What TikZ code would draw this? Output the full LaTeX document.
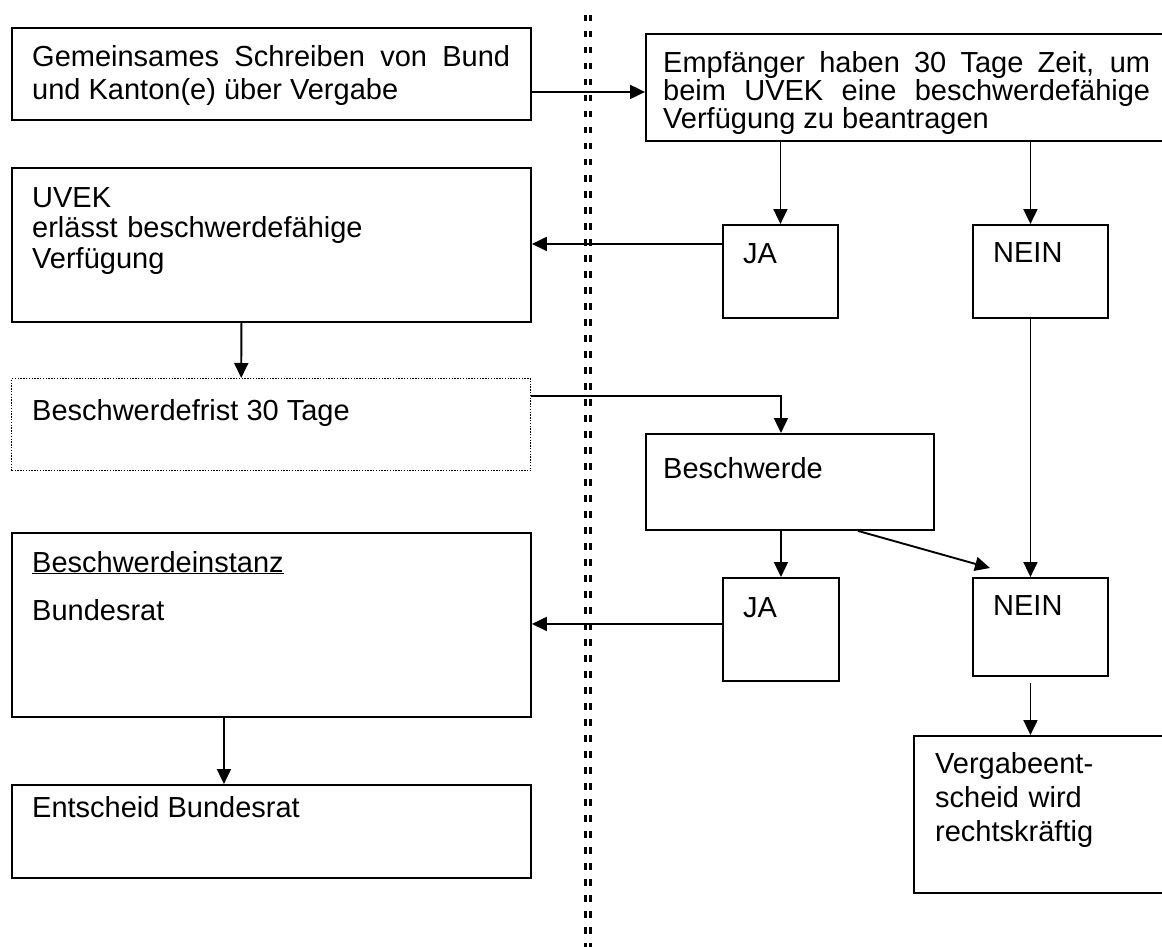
\documentclass[tikz,border=0pt]{standalone}
\usepackage{fontspec}
\setmainfont{Liberation Sans}
\usetikzlibrary{arrows.meta,calc}
\begin{document}
\begin{tikzpicture}[x=1pt,y=-1pt,
  box/.style={draw, line width=1.9pt, rectangle, inner sep=0pt, anchor=north west},
  dotbox/.style={draw, line width=1.4pt, dash pattern=on 1.4pt off 1.4pt, rectangle, inner sep=0pt, anchor=north west},
  txt/.style={anchor=base west, inner sep=0pt, font=\fontsize{29}{33}\selectfont, align=left},
  jtxt/.style={txt, align=justify},
  arr/.style={line width=1.9pt, -{Triangle[length=15pt,width=14pt]}},
  sepline/.style={line width=3pt, dash pattern=on 6.5pt off 9.5pt}]
\useasboundingbox (0,0) rectangle (1162,947);
\clip (0,0) rectangle (1162,947);
\fill[white] (0,0) rectangle (1162,947);
% separator
\draw[sepline] (585.5,15) -- (585.5,947);
\draw[sepline] (590.5,15) -- (590.5,947);
% boxes
\node[box, minimum width=519pt, minimum height=92pt] (b1) at (11,27) {};
\node[jtxt, text width=478pt] (t1) at (32,67) {Gemeinsames Schreiben von Bund\linebreak und Kanton(e) über Vergabe};
\node[box, minimum width=530pt, minimum height=107pt] (b2) at (645,33) {};
\node[jtxt, text width=487pt, font=\fontsize{29}{28}\selectfont] (t2) at (663,73) {Empfänger haben 30 Tage Zeit, um\linebreak beim UVEK eine beschwerdefähige\linebreak Verfügung zu beantragen};
\node[box, minimum width=519pt, minimum height=154pt] (b3) at (11,167) {};
\node[txt, text width=478pt, font=\fontsize{29}{31}\selectfont] (t3) at (32,207) {UVEK\\erlässt beschwerdefähige\\Verfügung};
\node[box, minimum width=115pt, minimum height=93pt] (ja1) at (722,224) {};
\node[txt] (tja1) at (743,263) {JA};
\node[box, minimum width=135pt, minimum height=93pt] (nein1) at (972,224) {};
\node[txt] (tnein1) at (993,262) {NEIN};
\node[dotbox, minimum width=519pt, minimum height=92pt] (b4) at (11,378) {};
\node[txt] (t4) at (32,420) {Beschwerdefrist 30 Tage};
\node[box, minimum width=288pt, minimum height=96pt] (b5) at (645,433) {};
\node[txt] (t5) at (663,478) {Beschwerde};
\node[box, minimum width=116pt, minimum height=103pt] (ja2) at (722,577) {};
\node[txt] (tja2) at (743,617) {JA};
\node[box, minimum width=135pt, minimum height=98pt] (nein2) at (972,577) {};
\node[txt] (tnein2) at (993,615) {NEIN};
\node[box, minimum width=519pt, minimum height=184pt] (b6) at (11,532) {};
\node[txt, text width=478pt] (t6) at (32,572) {\underline{Beschwerdeinstanz}\\[15pt]Bundesrat};
\node[box, minimum width=519pt, minimum height=93pt] (b7) at (11,784) {};
\node[txt] (t7) at (32,817) {Entscheid Bundesrat};
\node[box, minimum width=262pt, minimum height=157pt] (b8) at (913,735) {};
\node[txt, text width=220pt, font=\fontsize{29}{34}\selectfont] (t8) at (935,773) {Vergabeent-\\scheid wird\\rechtskräftig};
% connectors
\draw[arr] ([yshift=-18pt]b1.east) -- ([yshift=-18pt]b1.east -| b2.west);
\draw[arr] (ja1.north |- b2.south) -- (ja1.north);
\draw[arr] ([xshift=-10pt]nein1.north |- b2.south) -- ([xshift=-10pt]nein1.north);
\draw[arr] ([yshift=27.5pt]ja1.west) -- ([yshift=27.5pt]ja1.west -| b3.east);
\draw[arr] ([xshift=-30pt]b3.south) -- ([xshift=-30pt]b4.north);
\draw[arr] ([yshift=29pt]b4.east) -| ([xshift=-9pt]b5.north);
\draw[arr] (ja2.north |- b5.south) -- (ja2.north);
\draw[arr] ([xshift=68pt]b5.south) -- ([xshift=18pt,yshift=9pt]nein2.north west);
\draw[arr] ([xshift=-10pt]nein1.south) -- ([xshift=-10pt]nein2.north);
\draw[arr] ([yshift=5.5pt]ja2.west) -- ([yshift=5.5pt]ja2.west -| b6.east);
\draw[arr] ([xshift=-47.5pt]b6.south) -- ([xshift=-47.5pt]b7.north);
\draw[arr] ([xshift=-10pt,yshift=-6pt]nein2.south) -- ([xshift=-10pt]nein2.south |- b8.north);
\end{tikzpicture}
\end{document}
